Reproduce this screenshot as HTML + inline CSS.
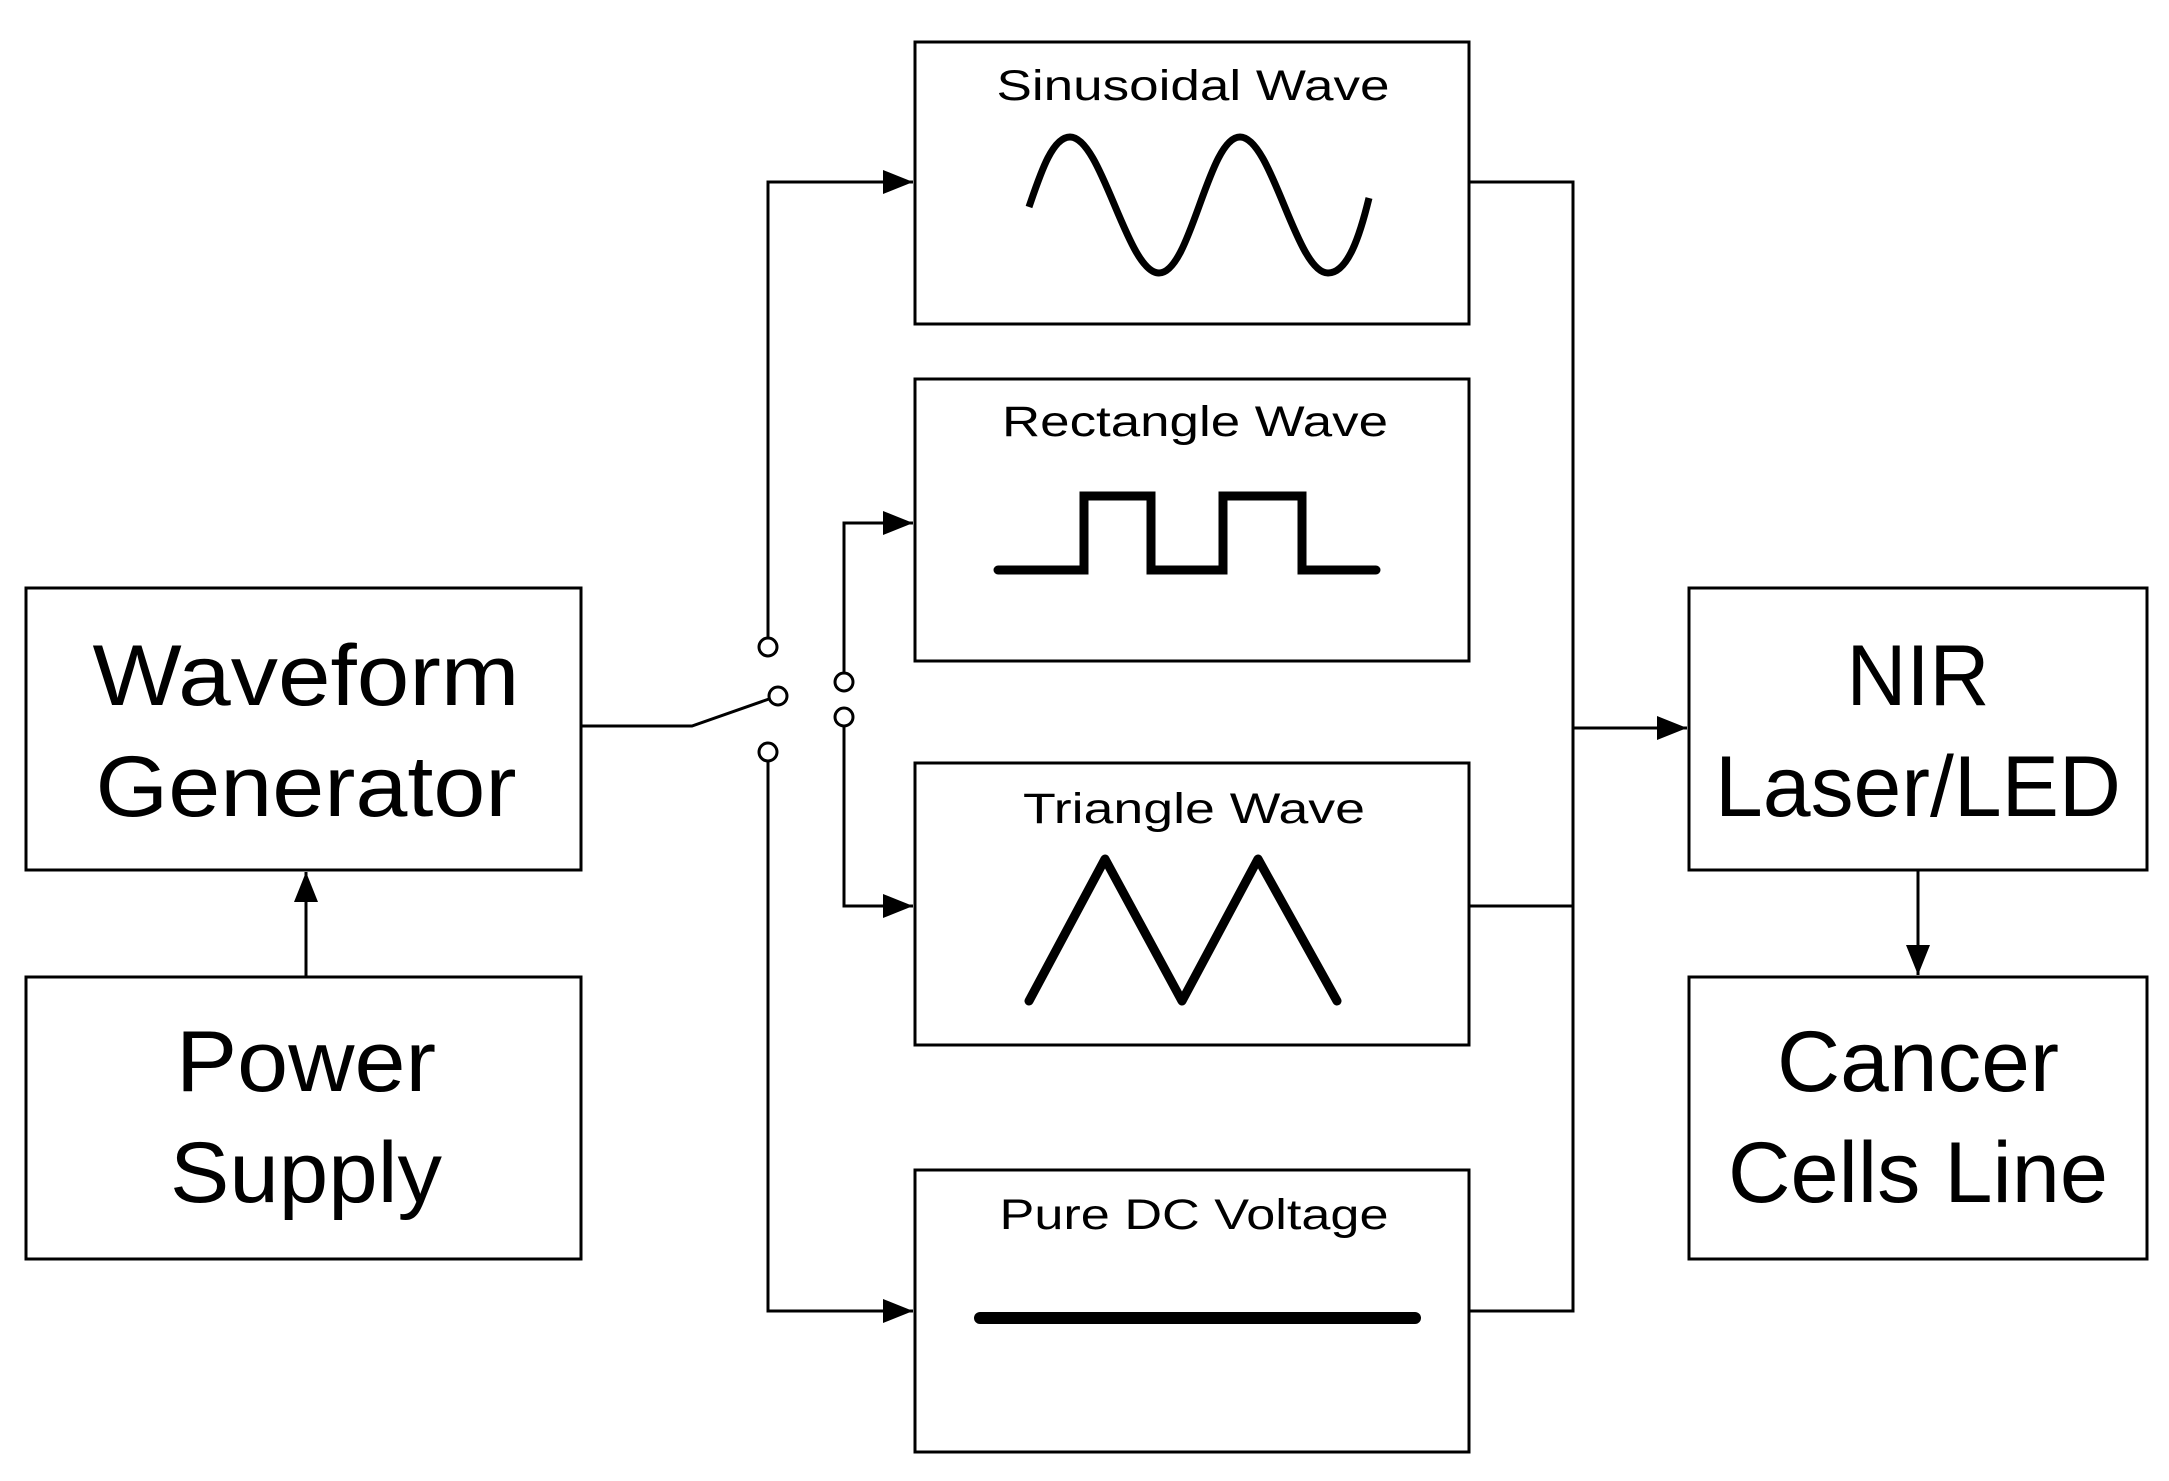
<!DOCTYPE html>
<html><head><meta charset="utf-8"><style>html,body{margin:0;padding:0;background:#fff}svg{display:block}</style></head>
<body>
<svg width="2169" height="1481" viewBox="0 0 2169 1481" xmlns="http://www.w3.org/2000/svg">
<defs>
<marker id="b" viewBox="0 0 10 8" refX="10" refY="4" markerWidth="40" markerHeight="24" orient="auto" markerUnits="userSpaceOnUse"><path d="M0,0 L10,4 L0,8 Z" fill="#000"/></marker></defs>
<g fill="none" stroke="#000" stroke-width="3">
<rect x="26" y="588" width="555" height="282"/>
<rect x="26" y="977" width="555" height="282"/>
<rect x="1689" y="588" width="458" height="282"/>
<rect x="1689" y="977" width="458" height="282"/>
<rect x="915" y="42" width="554" height="282"/>
<rect x="915" y="379" width="554" height="282"/>
<rect x="915" y="763" width="554" height="282"/>
<rect x="915" y="1170" width="554" height="282"/>
<polyline points="581,726 692,726 769,699"/>
<circle cx="778" cy="696" r="9"/>
<circle cx="768" cy="647" r="9"/>
<circle cx="768" cy="752" r="9"/>
<circle cx="844" cy="682" r="9"/>
<circle cx="844" cy="717" r="9"/>
<polyline points="768,638 768,182 913,182" marker-end="url(#b)"/>
<polyline points="768,761 768,1311 913,1311" marker-end="url(#b)"/>
<polyline points="844,673 844,523 913,523" marker-end="url(#b)"/>
<polyline points="844,726 844,906 913,906" marker-end="url(#b)"/>
<polyline points="1469,182 1573,182 1573,1311 1469,1311"/>
<line x1="1469" y1="906" x2="1573" y2="906"/>
<line x1="1573" y1="728" x2="1687" y2="728" marker-end="url(#b)"/>
<line x1="306" y1="977" x2="306" y2="872" marker-end="url(#b)"/>
<line x1="1918" y1="870" x2="1918" y2="975" marker-end="url(#b)"/>
<path stroke-width="7" d="M1029,207 C1040,175 1052,137 1070,137 C1102,137 1127,273 1159,273 C1191,273 1208,137 1240,137 C1272,137 1296,273 1328,273 C1348,273 1360,235 1369,198"/>
<polyline stroke-width="9" stroke-linecap="round" stroke-linejoin="miter" points="998,570 1084,570 1084,496 1151,496 1151,570 1223,570 1223,496 1302,496 1302,570 1376,570"/>
<polyline stroke-width="9" stroke-linecap="round" stroke-linejoin="round" points="1029,1001 1105,859 1182,1001 1258,859 1337,1001"/>
<line x1="980" y1="1318" x2="1415" y2="1318" stroke-width="12" stroke-linecap="round"/>
</g>
<g font-family="'Liberation Sans', sans-serif" fill="#000" text-anchor="middle">
<g font-size="86">
<text x="306" y="705" textLength="427" lengthAdjust="spacingAndGlyphs">Waveform</text>
<text x="306" y="816" textLength="421" lengthAdjust="spacingAndGlyphs">Generator</text>
<text x="306" y="1091" textLength="260" lengthAdjust="spacingAndGlyphs">Power</text>
<text x="306" y="1202" textLength="272" lengthAdjust="spacingAndGlyphs">Supply</text>
<text x="1918" y="705" textLength="143" lengthAdjust="spacingAndGlyphs">NIR</text>
<text x="1918" y="816" textLength="406" lengthAdjust="spacingAndGlyphs">Laser/LED</text>
<text x="1918" y="1091" textLength="282" lengthAdjust="spacingAndGlyphs">Cancer</text>
<text x="1918" y="1202" textLength="380" lengthAdjust="spacingAndGlyphs">Cells Line</text>
</g>
<g font-size="43">
<text x="1193" y="100" textLength="393" lengthAdjust="spacingAndGlyphs">Sinusoidal Wave</text>
<text x="1195" y="436" textLength="386" lengthAdjust="spacingAndGlyphs">Rectangle Wave</text>
<text x="1194" y="823" textLength="342" lengthAdjust="spacingAndGlyphs">Triangle Wave</text>
<text x="1194" y="1229" textLength="389" lengthAdjust="spacingAndGlyphs">Pure DC Voltage</text>
</g>
</g>
</svg>
</body></html>
